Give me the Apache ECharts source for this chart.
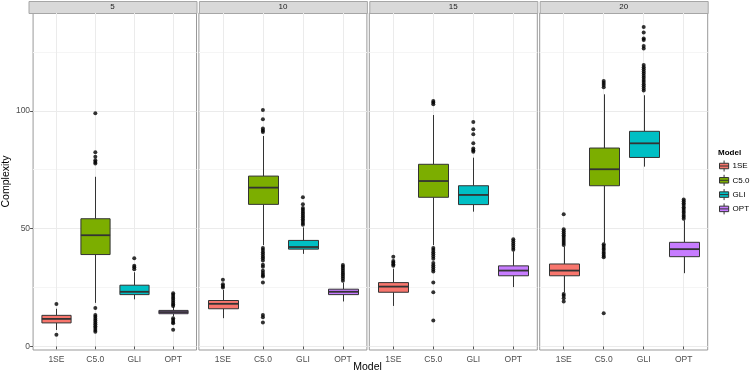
<!DOCTYPE html>
<html>
<head>
<meta charset="utf-8">
<script src="https://cdn.jsdelivr.net/npm/echarts@6/dist/echarts.min.js"></script>
<style>
  html, body { margin: 0; padding: 0; background: #fff; }
  #chart { width: 750px; height: 372px; }
</style>
</head>
<body>
<div id="chart"></div>
<script>
// facets and models
const facets = ['5', '10', '15', '20'];
const models = ['1SE', 'C5.0', 'GLI', 'OPT'];
const yTicks = [0, 50, 100];
const yMinorTicks = [25, 75, 125];

// box stats per facet: [lower whisker, Q1, median, Q3, upper whisker] for each model
const stats5 = [
  [7, 10, 11.7, 13.2, 16],
  [18.5, 39, 47.2, 54.2, 72],
  [20, 22, 23.2, 26, 31.5],
  [12.8, 13.9, 14.6, 15.3, 16.8]
];
const stats10 = [
  [12, 16, 18.1, 19.5, 24],
  [43, 60.3, 67.4, 72.3, 89.3],
  [39.3, 41.3, 42.2, 45, 50.5],
  [19.1, 22, 23.2, 24.3, 27]
];
const stats15 = [
  [17.2, 23, 25.4, 27.1, 33],
  [43, 63.3, 70.2, 77.3, 98.2],
  [57.2, 60.2, 64.3, 68.2, 80.1],
  [25.2, 30, 32.2, 34.2, 40.3]
];
const stats20 = [
  [23, 30, 32.2, 35, 42.4],
  [44, 68.2, 75.2, 84.2, 107],
  [76.3, 80.2, 86.2, 91.3, 106.6],
  [31.1, 38.1, 41.3, 44.2, 53.5]
];

// outliers per facet, one list per model
const out5 = [
  [18, 5],
  [99, 82.4, 80.5, 79, 78.3, 77.6, 16.3, 13.4, 12.6, 11.8, 11, 10.2, 9.4, 8.6, 7.8, 7, 6.2],
  [37.4, 34.3, 33.6, 32.8],
  [22.6, 21.8, 21, 20.2, 19.4, 18.6, 17.8, 17.2, 12, 11.2, 10.4, 9.9, 7.1]
];
const out10 = [
  [28.3, 26.4, 25.7, 25],
  [100.3, 96.4, 92.5, 91.6, 91, 41.8, 40.9, 40, 39.1, 38.2, 37.4, 36.5, 34.7, 33.8, 32.1, 31.2, 30.3, 29.7, 27.1, 13.4, 12.4, 10.2],
  [63.3, 60.3, 58.8, 58, 57.2, 56.4, 55.6, 54.8, 54, 53.2, 52.4, 51.6],
  [34.6, 33.8, 33, 32.1, 31.3, 30.5, 29.7, 28.8, 27.9]
];
const out15 = [
  [38.1, 36.3, 35.6, 34.9, 34.2],
  [104.2, 103.5, 102.8, 41.8, 40.9, 40, 39.1, 38.2, 37.2, 35.4, 34.5, 33.6, 32.7, 31.8, 27.1, 23, 11],
  [95.3, 92.2, 90.1, 86.2, 84, 83.3, 82.6],
  [45.5, 44.6, 43.7, 42.8, 41.9, 41]
];
const out20 = [
  [56.1, 49.7, 48.9, 48, 47.2, 46.4, 45.6, 44.7, 43.9, 43.1, 22.3, 21.5, 20.5, 19.1],
  [112.6, 111.8, 110.9, 110, 43.4, 42.6, 41.8, 41, 40.1, 39.3, 38.5, 37.9, 14.1],
  [135.6, 133.2, 130.7, 130, 127.5, 126.4, 119.4, 118.5, 117.6, 116.7, 115.8, 114.9, 114, 113.1, 112.2, 111.3, 110.4, 109.5, 108.6],
  [62.4, 61.6, 60.8, 60, 59.1, 58.3, 57.5, 56.7, 55.8, 55, 54.2]
];

const allStats = [stats5, stats10, stats15, stats20];
const allOut = [out5, out10, out15, out20];
const colors = ['#F8766D', '#7CAE00', '#00BFC4', '#C77CFF'];

const panelLeft = [28.5, 198.9, 369.3, 539.7];
const panelWidth = 168;
const panelTop = 13;
const panelHeight = 337;
const yMin = -1.5, yMax = 141.5;

function renderBox(params, api) {
  const x = api.value(0);
  const lo = api.coord([x, api.value(1)]);
  const q1 = api.coord([x, api.value(2)]);
  const md = api.coord([x, api.value(3)]);
  const q3 = api.coord([x, api.value(4)]);
  const hi = api.coord([x, api.value(5)]);
  const half = api.size([0.75, 0])[0] / 2;
  const cx = Math.round(md[0]) + 0.5;
  return {
    type: 'group',
    children: [
      { type: 'line', shape: { x1: cx, y1: lo[1], x2: cx, y2: q1[1] }, style: { stroke: '#333', lineWidth: 1 } },
      { type: 'line', shape: { x1: cx, y1: q3[1], x2: cx, y2: hi[1] }, style: { stroke: '#333', lineWidth: 1 } },
      { type: 'rect', shape: { x: cx - half, y: q3[1], width: half * 2, height: q1[1] - q3[1] },
        style: { fill: api.visual('color'), stroke: '#333', lineWidth: 1 } },
      { type: 'line', shape: { x1: cx - half, y1: md[1], x2: cx + half, y2: md[1] }, style: { stroke: '#333', lineWidth: 1.8 } }
    ]
  };
}

const grid = [], xAxis = [], yAxis = [], series = [], graphic = [];

facets.forEach(function (f, p) {
  grid.push({
    left: panelLeft[p], top: panelTop, width: panelWidth, height: panelHeight,
    show: true, backgroundColor: '#fff', borderColor: '#999', borderWidth: 1
  });
  xAxis.push({
    type: 'value', gridIndex: p, min: 0.4, max: 4.6,
    axisLine: { show: false },
    axisTick: { show: true, customValues: [1, 2, 3, 4], length: 3, lineStyle: { color: '#555' } },
    axisLabel: {
      customValues: [1, 2, 3, 4], margin: 5, fontSize: 8.5, color: '#4d4d4d',
      fontFamily: 'Liberation Sans', formatter: function (v) { return models[v - 1]; }
    },
    splitLine: { show: true, lineStyle: { color: '#ebebeb', width: 1 } }
  });
  // major y axis
  yAxis.push({
    type: 'value', gridIndex: p, min: yMin, max: yMax,
    name: p === 0 ? 'Complexity' : '', nameLocation: 'middle', nameGap: 20, nameRotate: 90,
    nameTextStyle: { fontSize: 10.5, color: '#000', fontFamily: 'Liberation Sans' },
    axisLine: { show: false },
    axisTick: { show: p === 0, customValues: yTicks, length: 3, lineStyle: { color: '#555' } },
    axisLabel: { show: p === 0, customValues: yTicks, margin: 3, fontSize: 8.5, color: '#4d4d4d', fontFamily: 'Liberation Sans' },
    splitLine: { show: true, lineStyle: { color: '#ebebeb', width: 1 } }
  });
  // minor grid lines
  yAxis.push({
    type: 'value', gridIndex: p, min: yMin, max: yMax, position: 'left',
    axisLine: { show: false },
    axisTick: { show: false, customValues: yMinorTicks },
    axisLabel: { show: false },
    splitLine: { show: true, lineStyle: { color: '#f5f5f5', width: 1 } }
  });

  const st = allStats[p];
  models.forEach(function (m, i) {
    series.push({
      type: 'custom', name: m, xAxisIndex: p, yAxisIndex: p * 2,
      itemStyle: { color: colors[i] },
      encode: { x: 0, y: [1, 2, 3, 4, 5] },
      renderItem: renderBox,
      data: [[i + 1].concat(st[i])],
      silent: true, z: 2
    });
  });

  const pts = [];
  allOut[p].forEach(function (list, i) {
    list.forEach(function (v) { pts.push([i + 1, v]); });
  });
  series.push({
    type: 'scatter', name: 'outliers', xAxisIndex: p, yAxisIndex: p * 2,
    symbolSize: 4, itemStyle: { color: '#000' }, data: pts, silent: true, z: 3
  });

  // facet strip
  graphic.push({
    type: 'rect', left: panelLeft[p], top: 1,
    shape: { width: panelWidth, height: panelTop - 1 },
    style: { fill: '#d9d9d9', stroke: '#a6a6a6', lineWidth: 1 }, silent: true
  });
  graphic.push({
    type: 'text', x: panelLeft[p] + panelWidth / 2, y: 7,
    style: { text: f, fontSize: 8, fill: '#1a1a1a', fontFamily: 'Liberation Sans', align: 'center', verticalAlign: 'middle' },
    silent: true
  });
});

graphic.push({
  type: 'text', x: 367.5, y: 367,
  style: { text: 'Model', fontSize: 10.5, fill: '#000', fontFamily: 'Liberation Sans', align: 'center', verticalAlign: 'middle' }
});
graphic.push({
  type: 'text', x: 718, y: 153,
  style: { text: 'Model', fontSize: 8, fontWeight: 'bold', fill: '#000', fontFamily: 'Liberation Sans', align: 'left', verticalAlign: 'middle' }
});

const chart = echarts.init(document.getElementById('chart'), null, { renderer: 'canvas' });
chart.setOption({
  animation: false,
  backgroundColor: '#fff',
  grid: grid,
  xAxis: xAxis,
  yAxis: yAxis,
  series: series,
  graphic: graphic,
  legend: {
    data: models, orient: 'vertical', left: 719, top: 160, padding: 0,
    itemWidth: 11, itemHeight: 11, itemGap: 2.3,
    icon: 'path://M1,3H11V9H1Z M1,6H11 M6,0V3 M6,9V12',
    itemStyle: { borderColor: '#333', borderWidth: 1 },
    textStyle: { fontSize: 8, lineHeight: 11, color: '#000', fontFamily: 'Liberation Sans', padding: [0, 0, 0, -2] },
    selectedMode: false
  }
});
</script>
</body>
</html>
